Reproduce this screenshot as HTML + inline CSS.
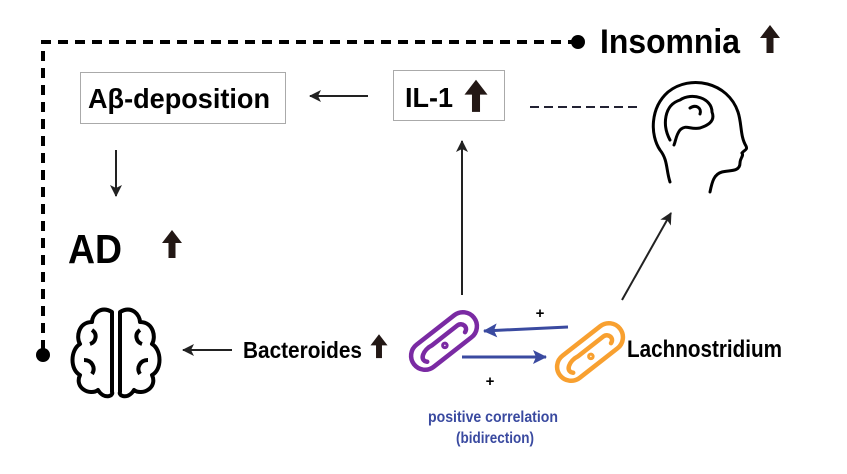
<!DOCTYPE html>
<html><head><style>
body{margin:0;width:847px;height:469px;background:#fff;overflow:hidden}
svg text{font-family:"Liberation Sans Narrow","Liberation Sans",sans-serif;font-weight:bold}
</style></head><body>
<svg width="847" height="469" viewBox="0 0 847 469" xmlns="http://www.w3.org/2000/svg">
<defs>
<marker id="ah" markerWidth="12" markerHeight="12" refX="11" refY="6" orient="auto" markerUnits="userSpaceOnUse"><path d="M0,0 L12,6 L0,12 L3,6z" fill="#222"/></marker>
<marker id="ab" markerWidth="14" markerHeight="14" refX="13" refY="7" orient="auto" markerUnits="userSpaceOnUse"><path d="M0,0 L14,7 L0,14 L3,7z" fill="#3a4aa0"/></marker>
<g id="up"><rect x="-3.5" y="9" width="7" height="17" fill="#231815"/><path d="M-10,11 L0,-2 L10,11z" fill="#231815"/></g>
</defs>
<path d="M578,42 H43 V355" fill="none" stroke="#000" stroke-width="4" stroke-dasharray="10,7"/>
<circle cx="578" cy="42" r="7"/><circle cx="43" cy="355" r="7"/>
<text x="600" y="53" font-size="34" textLength="140" lengthAdjust="spacingAndGlyphs">Insomnia</text>
<use href="#up" x="770" y="27"/>
<rect x="80.5" y="72.5" width="205" height="51" fill="#fff" stroke="#aaa"/>
<text x="88" y="108" font-size="28" textLength="182" lengthAdjust="spacingAndGlyphs">Aβ-deposition</text>
<rect x="393.5" y="70.5" width="111" height="50" fill="#fff" stroke="#aaa"/>
<text x="405" y="107" font-size="28" textLength="48" lengthAdjust="spacingAndGlyphs">IL-1</text>
<g transform="translate(476,82) scale(1.15)"><use href="#up"/></g>
<line x1="368" y1="96" x2="310" y2="96" stroke="#222" stroke-width="2" marker-end="url(#ah)"/>
<line x1="530" y1="107" x2="638" y2="107" stroke="#223" stroke-width="2" stroke-dasharray="9,5"/>
<g fill="none" stroke="#000" stroke-width="3" stroke-linecap="round">
<path d="M670,182 C666,170 668,160 660,150 C650,135 650,108 668,92 C690,74 728,82 738,112 C742,124 740,136 746,146 C748,150 744,150 742,153 C744,156 740,158 740,163 C740,172 730,170 722,172 C714,174 712,182 710,192"/>
<path d="M670,140 C662,125 664,105 680,100 C692,92 712,98 712,112 C716,122 706,126 700,128 C690,130 686,124 680,130 C676,135 676,140 674,145"/>
<path d="M690,108 C696,104 702,108 700,114"/>
</g>
<line x1="116" y1="150" x2="116" y2="196" stroke="#222" stroke-width="2" marker-end="url(#ah)"/>
<text x="68" y="263" font-size="41" textLength="54" lengthAdjust="spacingAndGlyphs">AD</text>
<use href="#up" x="172" y="232"/>
<g fill="none" stroke="#000" stroke-width="4" stroke-linejoin="round">
<path d="M112,312 C100,305 92,315 92,322 C78,322 76,338 80,344 C70,350 70,370 80,375 C74,388 90,396 98,390 C104,400 114,396 112,392 Z"/>
<path d="M120,312 C132,305 140,315 140,322 C154,322 156,338 152,344 C162,350 162,370 152,375 C158,388 142,396 134,390 C128,400 118,396 120,392 Z"/>
<path d="M92,330 C98,334 96,342 90,344 M84,360 C92,360 96,368 92,374 M140,330 C134,334 136,342 142,344 M148,360 C140,360 136,368 140,374"/>
</g>
<line x1="232" y1="350" x2="183" y2="350" stroke="#222" stroke-width="2" marker-end="url(#ah)"/>
<text x="243" y="358" font-size="23" textLength="119" lengthAdjust="spacingAndGlyphs">Bacteroides</text>
<g transform="translate(379,336) scale(.85)"><use href="#up"/></g>
<line x1="462" y1="295" x2="462" y2="141" stroke="#222" stroke-width="2" marker-end="url(#ah)"/>
<line x1="622" y1="300" x2="671" y2="213" stroke="#222" stroke-width="2" marker-end="url(#ah)"/>
<g transform="translate(444,341) rotate(-38)" fill="none" stroke="#7a2aa3" stroke-width="4.5" stroke-linecap="round">
<rect x="-38" y="-14" width="76" height="28" rx="14"/>
<path d="M-26,6 C-32,0 -22,-6 -12,-4 L20,-4 C26,-4 28,4 22,6"/>
<circle cx="-2" cy="4" r="1.5"/>
</g>
<g transform="translate(590,352) rotate(-38)" fill="none" stroke="#f8a030" stroke-width="4.5" stroke-linecap="round">
<rect x="-38" y="-14" width="76" height="28" rx="14"/>
<path d="M-26,6 C-32,0 -22,-6 -12,-4 L20,-4 C26,-4 28,4 22,6"/>
<circle cx="-2" cy="4" r="1.5"/>
</g>
<line x1="568" y1="327" x2="484" y2="331" stroke="#3a4aa0" stroke-width="3" marker-end="url(#ab)"/>
<line x1="462" y1="357" x2="546" y2="357" stroke="#3a4aa0" stroke-width="3" marker-end="url(#ab)"/>
<text x="540" y="318" font-size="15" text-anchor="middle">+</text>
<text x="490" y="386" font-size="15" text-anchor="middle">+</text>
<text x="627" y="357" font-size="24" textLength="155" lengthAdjust="spacingAndGlyphs">Lachnostridium</text>
<text x="428" y="422" font-size="16" fill="#3a4aa0" textLength="130" lengthAdjust="spacingAndGlyphs">positive correlation</text>
<text x="456" y="443" font-size="16" fill="#3a4aa0" textLength="78" lengthAdjust="spacingAndGlyphs">(bidirection)</text>
</svg>
</body></html>
